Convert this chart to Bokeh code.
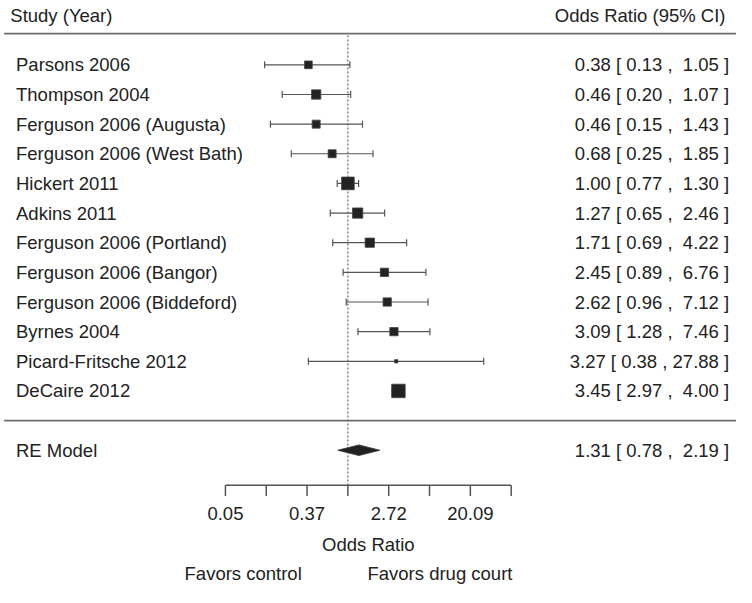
import numpy as np
from bokeh.plotting import figure
from bokeh.models import Range1d, ColumnDataSource
from bokeh.embed import file_html
from bokeh.resources import INLINE
from bokeh.core.properties import value

# ---------------- data ----------------
studies = ["Parsons 2006", "Thompson 2004", "Ferguson 2006 (Augusta)",
           "Ferguson 2006 (West Bath)", "Hickert 2011", "Adkins 2011",
           "Ferguson 2006 (Portland)", "Ferguson 2006 (Bangor)",
           "Ferguson 2006 (Biddeford)", "Byrnes 2004", "Picard-Fritsche 2012",
           "DeCaire 2012"]
odds_ratio = [0.38, 0.46, 0.46, 0.68, 1.00, 1.27, 1.71, 2.45, 2.62, 3.09, 3.27, 3.45]
ci_lower = [0.13, 0.20, 0.15, 0.25, 0.77, 0.65, 0.69, 0.89, 0.96, 1.28, 0.38, 2.97]
ci_upper = [1.05, 1.07, 1.43, 1.85, 1.30, 2.46, 4.22, 6.76, 7.12, 7.46, 27.88, 4.00]
weights = [7.7, 9.3, 8.0, 8.0, 12.7, 10.3, 9.3, 8.3, 8.3, 8.3, 3.3, 13.5]  # relative study weights

re_label = "RE Model"
re_or = 1.31
re_lower = 0.78
re_upper = 2.19

tick_exponents = [-3, -2, -1, 0, 1, 2, 3, 4]
tick_labels = ["0.05", "", "0.37", "", "2.72", "", "20.09", ""]

header_left = "Study (Year)"
header_right = "Odds Ratio (95% CI)"
axis_title = "Odds Ratio"
favors_left = "Favors control"
favors_right = "Favors drug court"

# ---------------- layout helpers ----------------
FONT = value("Liberation Sans")
FS = "18.5px"
TXT = "#222222"
GRAY = "#555555"
NB = "\u00a0"

n = len(studies)
rows = list(range(n, 0, -1))          # 12 .. 1
re_row = -1
sep_row = 0
header_text_y = 13.68
header_line_y = 13.05
axis_y = -2.18
tick_len = 0.365
ticklab_y = -3.14
title_y = -4.19
favors_y = -5.15

e = np.exp
x_lo_ln, x_hi_ln = -8.51, 9.52
p = figure(width=736, height=587, x_axis_type="log",
           x_range=Range1d(e(x_lo_ln), e(x_hi_ln)),
           y_range=Range1d(-5.63, 14.17),
           output_backend="svg", toolbar_location=None, min_border=0)
p.axis.visible = False
p.grid.visible = False
p.outline_line_color = None
p.background_fill_color = "white"
p.border_fill_color = "white"

# header line & separator
p.segment(x0=[e(-8.42)] * 2, x1=[e(x_hi_ln)] * 2, y0=[header_line_y, sep_row],
          y1=[header_line_y, sep_row], line_color="#6e6e6e", line_width=1.8)

# reference line at OR = 1
p.segment(x0=[1.0], x1=[1.0], y0=[header_line_y - 0.06], y1=[axis_y],
          line_color="#666666", line_width=1.2, line_dash="2 2")

# confidence intervals
src = ColumnDataSource(dict(study=studies, orr=odds_ratio, lo=ci_lower, hi=ci_upper,
                            row=rows, size=weights))
p.segment(x0="lo", x1="hi", y0="row", y1="row", source=src,
          line_color=GRAY, line_width=1.2)
p.scatter(x="lo", y="row", source=src, marker="dash", angle=np.pi / 2, size=7,
          line_color=GRAY, line_width=1.2)
p.scatter(x="hi", y="row", source=src, marker="dash", angle=np.pi / 2, size=7,
          line_color=GRAY, line_width=1.2)
p.scatter(x="orr", y="row", source=src, marker="square", size="size",
          fill_color="#222222", line_color="#444444", line_width=0.8)

# RE model diamond
dh = 0.18
p.patch(x=[re_lower, re_or, re_upper, re_or], y=[re_row, re_row + dh, re_row, re_row - dh],
        fill_color="#222222", line_color="#333333", line_width=0.8)

# left study labels
lab_x = e(-8.13)
p.text(x=[lab_x] * n + [lab_x], y=rows + [re_row], text=studies + [re_label],
       text_font=FONT, text_font_size=FS, text_color=TXT,
       text_align="left", text_baseline="middle")


def fmt(o, l, h):
    hs = f"{h:.2f}"
    pad = NB * (5 - len(hs))
    return f"{o:.2f} [ {l:.2f} ,{NB}{pad}{hs} ]"


ann = [fmt(o, l, h) for o, l, h in zip(odds_ratio, ci_lower, ci_upper)]
ann.append(fmt(re_or, re_lower, re_upper))
ann_x = e(9.34)
p.text(x=[ann_x] * (n + 1), y=rows + [re_row], text=ann,
       text_font=FONT, text_font_size=FS, text_color=TXT,
       text_align="right", text_baseline="middle")

# headers
p.text(x=[e(-8.27)], y=[header_text_y], text=[header_left], text_font=FONT,
       text_font_size=FS, text_color=TXT, text_align="left", text_baseline="middle")
p.text(x=[e(9.25)], y=[header_text_y], text=[header_right], text_font=FONT,
       text_font_size=FS, text_color=TXT, text_align="right", text_baseline="middle")

# custom x axis
tick_x = [e(t) for t in tick_exponents]
p.segment(x0=[tick_x[0]], x1=[tick_x[-1]], y0=[axis_y], y1=[axis_y],
          line_color=GRAY, line_width=1.5)
p.segment(x0=tick_x, x1=tick_x, y0=[axis_y] * len(tick_x),
          y1=[axis_y - tick_len] * len(tick_x), line_color=GRAY, line_width=1.5)
p.text(x=tick_x, y=[ticklab_y] * len(tick_x), text=tick_labels, text_font=FONT,
       text_font_size=FS, text_color=TXT, text_align="center", text_baseline="middle")
p.text(x=[e((tick_exponents[0] + tick_exponents[-1]) / 2)], y=[title_y], text=[axis_title],
       text_font=FONT, text_font_size=FS, text_color=TXT, text_align="center",
       text_baseline="middle")
p.text(x=[e(-1.13)], y=[favors_y], text=[favors_left], text_font=FONT,
       text_font_size=FS, text_color=TXT, text_align="right", text_baseline="middle")
p.text(x=[e(0.48)], y=[favors_y], text=[favors_right], text_font=FONT,
       text_font_size=FS, text_color=TXT, text_align="left", text_baseline="middle")

open("out.html", "w").write(file_html(p, INLINE))
